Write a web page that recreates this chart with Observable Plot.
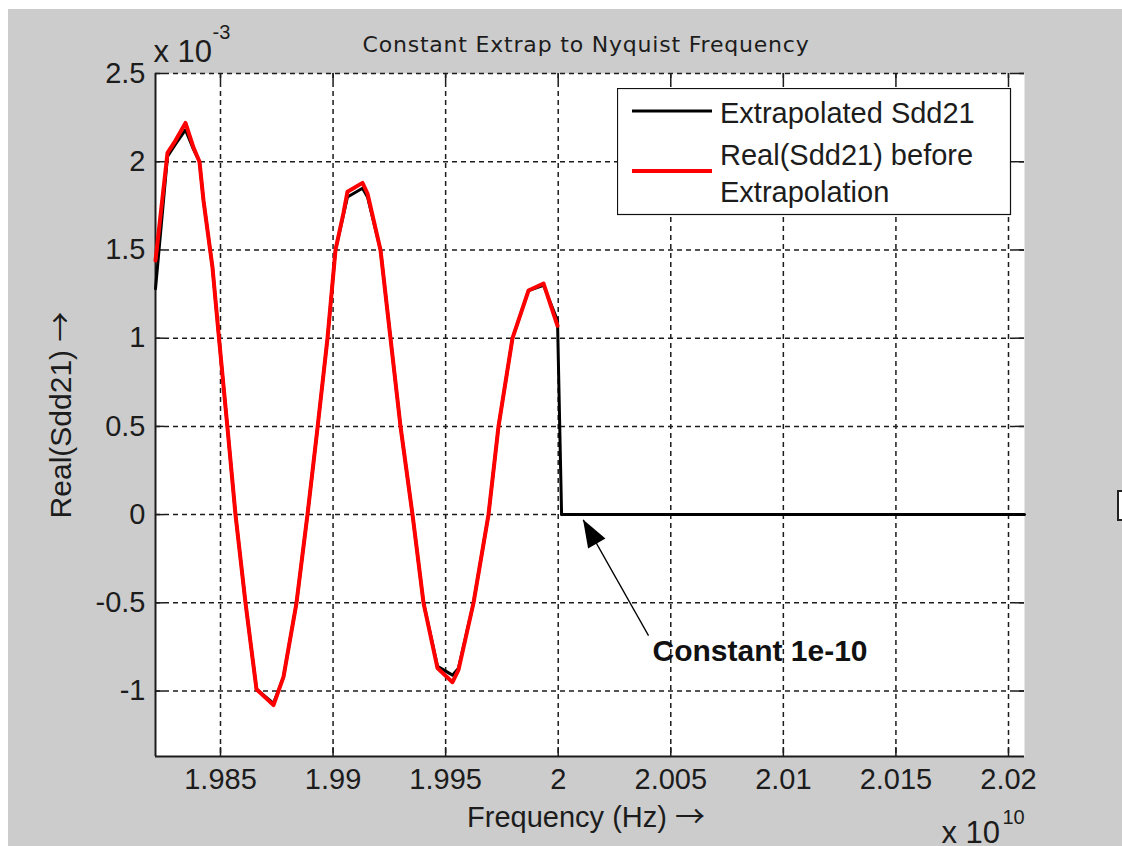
<!DOCTYPE html>
<html>
<head>
<meta charset="utf-8">
<script src="https://cdn.jsdelivr.net/npm/d3@7"></script>
<script src="https://cdn.jsdelivr.net/npm/@observablehq/plot@0.6"></script>
<style>
  html, body { margin: 0; padding: 0; background: #ffffff; }
  #fig { position: absolute; left: 8px; top: 9px; width: 1114px; height: 837px; background: #cccccc; overflow: hidden; }
  #fig > svg.main { position: absolute; left: 0; top: 0; }
  #fig > svg.legend { position: absolute; left: 609px; top: 79px; }
  #edge { position: absolute; left: 1109px; top: 481px; width: 12px; height: 31px; box-sizing: border-box; border: 2px solid #222; background: #fff; }
</style>
</head>
<body>
<div id="fig"></div>
<script>
// Real(Sdd21) samples before extrapolation (frequency in Hz, value)
const realFreq = [
  1.982113e10, 1.982646e10, 1.983001e10, 1.983445e10, 1.983801e10, 1.984067e10, 1.984245e10,
  1.984645e10, 1.984911e10, 1.985311e10, 1.985666e10, 1.986110e10, 1.986599e10, 1.987354e10,
  1.987798e10, 1.988376e10, 1.988864e10, 1.989308e10, 1.989753e10, 1.990108e10, 1.990463e10,
  1.990641e10, 1.991307e10, 1.991529e10, 1.992107e10, 1.992551e10, 1.992995e10, 1.993528e10,
  1.994017e10, 1.994638e10, 1.995305e10, 1.995571e10, 1.996238e10, 1.996904e10, 1.997348e10,
  1.997970e10, 1.998680e10, 1.999347e10, 1.999969e10
];
const realValue = [
  1.44e-3, 2.05e-3, 2.12e-3, 2.22e-3, 2.08e-3, 2.00e-3, 1.78e-3,
  1.40e-3, 1.03e-3, 0.49e-3, 0.00e-3, -0.50e-3, -0.99e-3, -1.08e-3,
  -0.92e-3, -0.50e-3, 0.00e-3, 0.49e-3, 1.00e-3, 1.50e-3, 1.71e-3,
  1.83e-3, 1.88e-3, 1.82e-3, 1.50e-3, 1.00e-3, 0.50e-3, 0.00e-3,
  -0.50e-3, -0.87e-3, -0.95e-3, -0.88e-3, -0.50e-3, 0.00e-3, 0.50e-3,
  1.00e-3, 1.27e-3, 1.31e-3, 1.07e-3
];

// Extrapolated Sdd21: measured band, then held at a constant out to Nyquist
const extrapFreq = [
  1.982113e10, 1.982646e10, 1.983001e10, 1.983445e10, 1.983801e10, 1.984067e10, 1.984245e10,
  1.984645e10, 1.984911e10, 1.985311e10, 1.985666e10, 1.986110e10, 1.986599e10, 1.987354e10,
  1.987798e10, 1.988376e10, 1.988864e10, 1.989308e10, 1.989753e10, 1.990108e10, 1.990463e10,
  1.990641e10, 1.991307e10, 1.991529e10, 1.992107e10, 1.992551e10, 1.992995e10, 1.993528e10,
  1.994017e10, 1.994638e10, 1.995305e10, 1.995571e10, 1.996238e10, 1.996904e10, 1.997348e10,
  1.997970e10, 1.998680e10, 1.999347e10, 1.999969e10, 2.000150e10, 2.020711e10
];
const extrapValue = [
  1.28e-3, 2.03e-3, 2.10e-3, 2.18e-3, 2.07e-3, 2.00e-3, 1.78e-3,
  1.40e-3, 1.03e-3, 0.49e-3, 0.00e-3, -0.50e-3, -0.99e-3, -1.07e-3,
  -0.92e-3, -0.50e-3, 0.00e-3, 0.49e-3, 1.00e-3, 1.50e-3, 1.70e-3,
  1.80e-3, 1.85e-3, 1.80e-3, 1.50e-3, 1.00e-3, 0.50e-3, 0.00e-3,
  -0.50e-3, -0.86e-3, -0.91e-3, -0.87e-3, -0.50e-3, 0.00e-3, 0.50e-3,
  1.00e-3, 1.27e-3, 1.30e-3, 1.10e-3, 1e-10, 1e-10
];

// Axes
const xDomain = [1.982113e10, 2.020711e10];
const yDomain = [-1.371e-3, 2.5e-3];
const xTicks = [1.985e10, 1.99e10, 1.995e10, 2e10, 2.005e10, 2.01e10, 2.015e10, 2.02e10];
const yTicks = [-1e-3, -0.5e-3, 0, 0.5e-3, 1e-3, 1.5e-3, 2e-3, 2.5e-3];

// Texts
const titleText = "Constant Extrap to Nyquist Frequency";
const xLabel = "Frequency (Hz) \u2192";
const yLabel = "Real(Sdd21) \u2192";
const legendNames = [["Extrapolated Sdd21"], ["Real(Sdd21) before", "Extrapolation"]];
const legendColors = ["#000000", "#ff0000"];

// Annotation for the constant tail
const noteText = "Constant 1e-10";
const noteTextAt = [2.004188e10, -0.777e-3];
const noteTail = [2.004011e10, -0.686e-3];
const noteTip = [2.001110e10, -0.030e-3];
const noteHead = [2.001657e10, -0.151e-3];

const realData = realFreq.map((f, i) => ({f, v: realValue[i]}));
const extrapData = extrapFreq.map((f, i) => ({f, v: extrapValue[i]}));

const W = 1114, H = 837;
const mL = 147, mR = 98, mT = 64, mB = 90;
const frameW = W - mL - mR, frameH = H - mT - mB;
const ink = "#1c1c1c";
const tick = 9;
const textFont = "'Liberation Sans', Arial, sans-serif";

const fmtX = d => String(+(d / 1e10).toFixed(4));
const fmtY = d => String(+(d * 1e3).toFixed(3));

// Narrow filled arrowhead, tip pointing up before rotation
const arrowHead = {
  draw(context, size) {
    const r = Math.sqrt(size / Math.PI);
    context.moveTo(0, -r);
    context.lineTo(0.4 * r, 0.1 * r);
    context.lineTo(-0.4 * r, 0.1 * r);
    context.closePath();
  }
};

const chart = Plot.plot({
  width: W,
  height: H,
  marginLeft: mL,
  marginRight: mR,
  marginTop: mT,
  marginBottom: mB,
  className: "main",
  style: {background: "transparent", fontFamily: textFont, fontSize: "29px", color: ink, overflow: "visible"},
  x: {domain: xDomain},
  y: {domain: yDomain},
  marks: [
    Plot.frame({fill: "white", stroke: "none"}),
    Plot.gridX(xTicks, {stroke: ink, strokeOpacity: 1, strokeWidth: 1.5, strokeDasharray: "5,4"}),
    Plot.gridY(yTicks, {stroke: ink, strokeOpacity: 1, strokeWidth: 1.5, strokeDasharray: "5,4"}),
    // inward tick marks on all four sides
    Plot.tickX(xTicks, {x: d => d, insetTop: frameH - tick, stroke: ink, strokeWidth: 1.5}),
    Plot.tickX(xTicks, {x: d => d, insetBottom: frameH - tick, stroke: ink, strokeWidth: 1.5}),
    Plot.tickY(yTicks, {y: d => d, insetRight: frameW - tick, stroke: ink, strokeWidth: 1.5}),
    Plot.tickY(yTicks, {y: d => d, insetLeft: frameW - tick, stroke: ink, strokeWidth: 1.5}),
    Plot.ruleX([xDomain[0]], {stroke: ink, strokeWidth: 2}),
    Plot.ruleY([yDomain[0]], {stroke: ink, strokeWidth: 2}),
    Plot.axisX(xTicks, {tickSize: 0, tickPadding: 12, tickFormat: fmtX, label: null, fontSize: 29}),
    Plot.axisY(yTicks, {tickSize: 0, tickPadding: 10, tickFormat: fmtY, label: null, fontSize: 29}),
    // series
    Plot.line(extrapData, {x: "f", y: "v", stroke: "#000000", strokeWidth: 3}),
    Plot.line(realData, {x: "f", y: "v", stroke: "#ff0000", strokeWidth: 4}),
    // annotation
    Plot.link([0], {x1: () => noteTail[0], y1: () => noteTail[1], x2: () => noteTip[0], y2: () => noteTip[1], stroke: "#000", strokeWidth: 1.3}),
    Plot.dot([0], {x: () => noteHead[0], y: () => noteHead[1], symbol: arrowHead, r: 25, fill: "#000", stroke: "none", rotate: -30}),
    Plot.text([noteText], {x: () => noteTextAt[0], y: () => noteTextAt[1], text: d => d, textAnchor: "start", fontWeight: "bold", fontSize: 30, fill: "#111"}),
    // title, labels and scale multipliers
    Plot.text([titleText], {frameAnchor: "top", textAnchor: "middle", dx: -4, dy: -37, text: d => d, fontFamily: "'DejaVu Sans', sans-serif", fontSize: 22, fill: ink}),
    Plot.text([xLabel], {frameAnchor: "bottom", textAnchor: "middle", dx: -4, dy: 70, text: d => d, fontSize: 29, fill: ink}),
    Plot.text([yLabel], {frameAnchor: "left", textAnchor: "middle", dx: -94, dy: 0, rotate: -90, text: d => d, fontSize: 30, fill: ink}),
    Plot.text(["x 10"], {frameAnchor: "top-left", dx: -2, dy: -34, textAnchor: "start", text: d => d, fontSize: 31, fill: ink}),
    Plot.text(["-3"], {frameAnchor: "top-left", dx: 57, dy: -49, textAnchor: "start", text: d => d, fontSize: 20, fill: ink}),
    Plot.text(["x 10"], {frameAnchor: "bottom-right", dx: -83, dy: 86, textAnchor: "start", text: d => d, fontSize: 31, fill: ink}),
    Plot.text(["10"], {frameAnchor: "bottom-right", dx: -22, dy: 67, textAnchor: "start", text: d => d, fontSize: 20, fill: ink})
  ]
});

const svg = d3.select(chart);
svg.selectAll("text").each(function () {
  const t = this.textContent;
  if (t === titleText) d3.select(this).style("letter-spacing", "0.8px");
  // draw the arrow of the axis labels with a font that has a thin, full-width arrow glyph
  if (t === xLabel || t === yLabel) {
    const parts = t.split("\u2192");
    this.textContent = parts[0];
    d3.select(this).append("tspan")
      .style("font-family", "'Noto Sans CJK JP', 'DejaVu Sans', sans-serif")
      .style("font-size", "30px")
      .text("\u2192");
  }
});

const fig = document.getElementById("fig");
fig.appendChild(chart);

// Legend box
const lg = d3.create("svg")
  .attr("class", "legend")
  .attr("width", 395)
  .attr("height", 128)
  .style("font-family", textFont)
  .style("font-size", "29px");
lg.append("rect").attr("x", 0.5).attr("y", 0.5).attr("width", 393).attr("height", 126)
  .attr("fill", "#ffffff").attr("stroke", "#111").attr("stroke-width", 1.2);
const rowY = [23, 83];
const rowBase = [[35], [77, 114]];
legendNames.forEach((lines, i) => {
  lg.append("line").attr("x1", 15).attr("x2", 95).attr("y1", rowY[i]).attr("y2", rowY[i])
    .attr("stroke", legendColors[i]).attr("stroke-width", i === 0 ? 3 : 4);
  lines.forEach((t, j) => {
    lg.append("text").attr("x", 103).attr("y", rowBase[i][j]).attr("fill", ink).text(t);
  });
});
fig.appendChild(lg.node());

const edge = document.createElement("div");
edge.id = "edge";
fig.appendChild(edge);
</script>
</body>
</html>
